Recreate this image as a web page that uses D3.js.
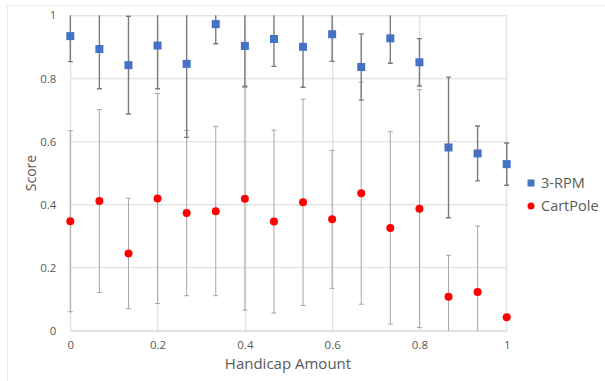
<!DOCTYPE html>
<html>
<head>
<meta charset="utf-8">
<script src="https://cdn.jsdelivr.net/npm/d3@7"></script>
<style>
  body { margin: 0; background: #fff; }
  text { font-family: "Open Sans", "Noto Sans", sans-serif; fill: #595959; }
</style>
</head>
<body>
<div id="container"></div>
<script>
// handicap steps 0, 1/15 ... 1
var handicap = [0, 1/15, 2/15, 3/15, 4/15, 5/15, 6/15, 7/15, 8/15, 9/15, 10/15, 11/15, 12/15, 13/15, 14/15, 1];

var rpmScore = [0.934, 0.893, 0.842, 0.904, 0.846, 0.972, 0.903, 0.925, 0.900, 0.940, 0.836, 0.927, 0.851, 0.581, 0.562, 0.528];
var rpmErr = [0.081, 0.126, 0.155, 0.137, 0.233, 0.062, 0.128, 0.087, 0.128, 0.086, 0.105, 0.079, 0.075, 0.223, 0.087, 0.067];

var cartScore = [0.347, 0.411, 0.245, 0.419, 0.373, 0.379, 0.418, 0.346, 0.407, 0.353, 0.436, 0.326, 0.387, 0.108, 0.123, 0.043];
var cartErr = [0.287, 0.290, 0.175, 0.333, 0.262, 0.268, 0.353, 0.290, 0.327, 0.219, 0.352, 0.305, 0.377, 0.131, 0.209, 0];

var xTicks = [0, 0.2, 0.4, 0.6, 0.8, 1];
var yTicks = [0, 0.2, 0.4, 0.6, 0.8, 1];
var seriesNames = ["3-RPM", "CartPole"];

var W = 605, H = 381;
var margin = { top: 15.3, right: 98.3, bottom: 50.3, left: 70.3 },
  width = W - margin.left - margin.right,
  height = H - margin.top - margin.bottom;

var svg = d3.select("#container")
  .append("svg")
  .attr("width", W)
  .attr("height", H);

// faint chart frame
svg.append("rect")
  .attr("x", 7.5)
  .attr("y", 5.5)
  .attr("width", W + 10)
  .attr("height", H + 10)
  .attr("fill", "none")
  .attr("stroke", "#ececec");

var x = d3.scaleLinear().domain([0, 1]).range([0, width]);
var y = d3.scaleLinear().domain([0, 1]).range([height, 0]);

var g = svg.append("g")
  .attr("transform", "translate(" + margin.left + "," + margin.top + ")");

g.append("clipPath")
  .attr("id", "clip")
  .append("rect")
  .attr("x", -5)
  .attr("y", 0)
  .attr("width", width + 10)
  .attr("height", height);

//gridlines
g.append("g")
  .selectAll("line")
  .data(yTicks)
  .enter().append("line")
  .attr("x1", 0)
  .attr("x2", width)
  .attr("y1", function (d) { return Math.round(y(d)) + 0.5; })
  .attr("y2", function (d) { return Math.round(y(d)) + 0.5; })
  .attr("stroke", "#d9d9d9");

g.append("g")
  .selectAll("line")
  .data(xTicks)
  .enter().append("line")
  .attr("x1", function (d) { return Math.round(x(d)) + 0.5; })
  .attr("x2", function (d) { return Math.round(x(d)) + 0.5; })
  .attr("y1", 0)
  .attr("y2", height)
  .attr("stroke", "#d9d9d9");

//axes
var xAxis = d3.axisBottom(x)
  .tickValues(xTicks)
  .tickSize(0)
  .tickPadding(10)
  .tickFormat(d3.format("~g"));

var yAxis = d3.axisLeft(y)
  .tickValues(yTicks)
  .tickSize(0)
  .tickPadding(14)
  .tickFormat(d3.format("~g"));

g.append("g")
  .attr("transform", "translate(0," + height + ")")
  .call(xAxis)
  .call(function (s) { s.select(".domain").attr("stroke", "#d9d9d9"); })
  .selectAll("text")
  .attr("font-size", 11.5)
  .style("font-family", "Open Sans");

g.append("g")
  .call(yAxis)
  .call(function (s) { s.select(".domain").remove(); })
  .selectAll("text")
  .attr("font-size", 11.5)
  .style("font-family", "Open Sans");

//error bars
var plot = g.append("g").attr("clip-path", "url(#clip)");

function errorBars(vals, errs, color, sw) {
  var bars = plot.append("g")
    .selectAll("g")
    .data(vals)
    .enter().append("g")
    .attr("stroke", color)
    .attr("stroke-width", sw);

  bars.filter(function (d, i) { return errs[i] > 0; })
    .append("line")
    .attr("x1", function (d, i) { return x(handicap[i]); })
    .attr("x2", function (d, i) { return x(handicap[i]); })
    .attr("y1", function (d, i) { return y(d + errs[i]); })
    .attr("y2", function (d, i) { return y(d - errs[i]); });

  [1, -1].forEach(function (s) {
    bars.filter(function (d, i) { return errs[i] > 0; })
      .append("line")
      .attr("x1", function (d, i) { return x(handicap[i]) - 2.5; })
      .attr("x2", function (d, i) { return x(handicap[i]) + 2.5; })
      .attr("y1", function (d, i) { return y(d + s * errs[i]); })
      .attr("y2", function (d, i) { return y(d + s * errs[i]); });
  });
}

errorBars(cartScore, cartErr, "#a6a6a6", 1);
errorBars(rpmScore, rpmErr, "#7a7a7a", 1.4);

//markers
g.append("g")
  .selectAll("rect")
  .data(rpmScore)
  .enter().append("rect")
  .attr("x", function (d, i) { return x(handicap[i]) - 4; })
  .attr("y", function (d) { return y(d) - 4; })
  .attr("width", 8)
  .attr("height", 8)
  .attr("fill", "#4472c4");

g.append("g")
  .selectAll("circle")
  .data(cartScore)
  .enter().append("circle")
  .attr("cx", function (d, i) { return x(handicap[i]); })
  .attr("cy", function (d) { return y(d); })
  .attr("r", 4)
  .attr("fill", "#ff0000");

//axis titles
svg.append("text")
  .attr("transform", "translate(36,173) rotate(-90)")
  .attr("text-anchor", "middle")
  .attr("font-size", 14)
  .text("Score");

svg.append("text")
  .attr("x", 288)
  .attr("y", 369)
  .attr("text-anchor", "middle")
  .attr("font-size", 15)
  .text("Handicap Amount");

//legend
var legend = svg.append("g")
  .selectAll("g")
  .data(seriesNames)
  .enter().append("g")
  .attr("transform", function (d, i) { return "translate(531," + (183 + i * 23) + ")"; });

legend.filter(function (d, i) { return i === 0; })
  .append("rect")
  .attr("x", -3.5).attr("y", -3.5)
  .attr("width", 7).attr("height", 7)
  .attr("fill", "#4472c4");

legend.filter(function (d, i) { return i === 1; })
  .append("circle")
  .attr("r", 3.5)
  .attr("fill", "#ff0000");

legend.append("text")
  .attr("x", 10)
  .attr("dy", "0.35em")
  .attr("font-size", 14.5)
  .text(function (d) { return d; });
</script>
</body>
</html>
